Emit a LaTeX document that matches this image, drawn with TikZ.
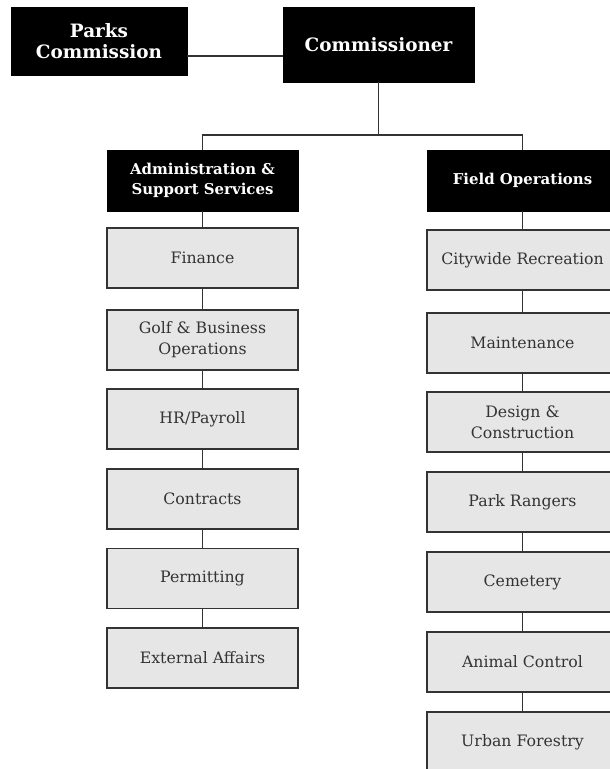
\documentclass[tikz,border=0pt]{standalone}
\usepackage{fontspec}
\setmainfont{DejaVu Serif}
\usepackage{tikz}
\usetikzlibrary{positioning}
\usepackage{xcolor}
\definecolor{unitgray}{HTML}{E6E6E6}
\definecolor{edgegray}{HTML}{333333}

\begin{document}
\begin{tikzpicture}[x=0.75pt,y=-0.75pt,
  headbox/.style={fill=black,draw=black,text=white,font=\bfseries\fontsize{11.2}{15}\selectfont,align=center,minimum width=143.25pt,minimum height=45.75pt,inner sep=2pt},
  topbox/.style={headbox,font=\bfseries\fontsize{13.8}{16}\selectfont},
  unitbox/.style={fill=unitgray,draw=edgegray,line width=1pt,text=edgegray,font=\fontsize{11.8}{15.75}\selectfont,align=center,minimum width=143.25pt,minimum height=45pt,inner sep=2pt},
  link/.style={draw=edgegray,line width=1.1pt}]
\useasboundingbox[fill=white] (0,0) rectangle (610,769);
% top level
\node[topbox,minimum width=132pt,minimum height=51pt] (pc) at (99,41) {Parks\\Commission};
\node[topbox,minimum height=56.25pt] (comm) at (378.5,44.5) {Commissioner};
% branches
\node[headbox] (adm) at (202.5,180.5) {Administration \&\\Support Services};
\node[headbox] (fld) at (522.5,180.5) {Field Operations};
% admin units
\node[unitbox] (fin) at (202.5,258) {Finance};
\node[unitbox] (golf) at (202.5,340) {Golf \& Business\\Operations};
\node[unitbox] (hr) at (202.5,419) {HR/Payroll};
\node[unitbox] (ctr) at (202.5,499) {Contracts};
\node[unitbox] (perm) at (202.5,578.5) {Permitting};
\node[unitbox] (ext) at (202.5,658) {External Affairs};
% field units
\node[unitbox] (rec) at (522.5,260) {Citywide Recreation};
\node[unitbox] (mnt) at (522.5,343) {Maintenance};
\node[unitbox] (dsg) at (522.5,422) {Design \&\\Construction};
\node[unitbox] (rng) at (522.5,502) {Park Rangers};
\node[unitbox] (cem) at (522.5,582) {Cemetery};
\node[unitbox] (ani) at (522.5,662) {Animal Control};
\node[unitbox] (urb) at (522.5,742) {Urban Forestry};
% connectors
\coordinate (pclink) at (235,56);
\coordinate (bus) at (378.5,135);
\draw[link] (pclink -| pc.east) -- (pclink -| comm.west);
\draw[link] (comm.south) -- (bus);
\draw[link] (adm.north) |- (bus) -| (fld.north);
\foreach \a/\b in {adm/fin,fin/golf,golf/hr,hr/ctr,ctr/perm,perm/ext,fld/rec,rec/mnt,mnt/dsg,dsg/rng,rng/cem,cem/ani,ani/urb}
  \draw[link] (\a.south) -- (\b.north);
\end{tikzpicture}
\end{document}
